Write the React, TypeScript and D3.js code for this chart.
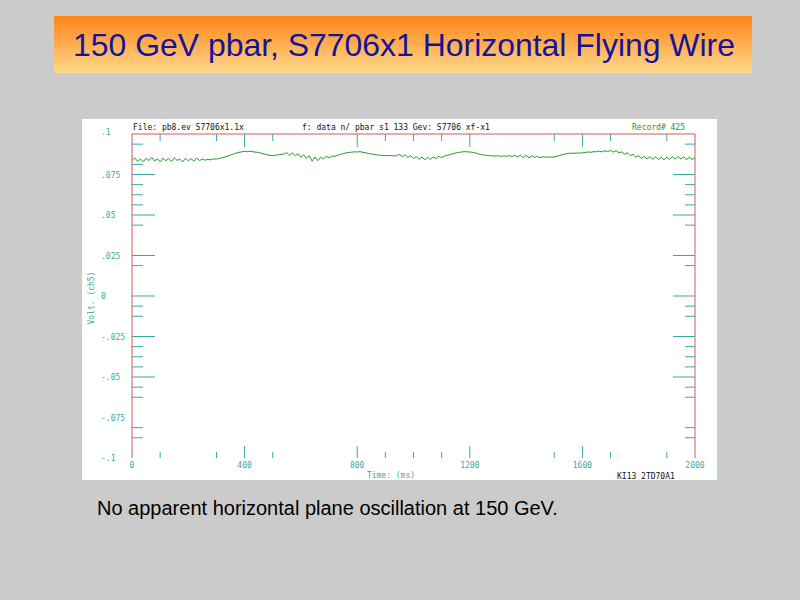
import React from "react";
import * as d3 from "d3";

// ---- data ----
const TITLE = "150 GeV pbar, S7706x1 Horizontal Flying Wire";
const CAPTION = "No apparent horizontal plane oscillation at 150 GeV.";
const HEADER_FILE = "File: pb8.ev S7706x1.1x";
const HEADER_PATH = "f: data n/ pbar s1 133 Gev: S7706 xf-x1";
const HEADER_RECORD = "Record#  425";
const FOOTER_ID = "KI13 2TD70A1";
const X_LABEL = "Time: (ms)";
const Y_LABEL = "Volt. (ch5)";

const X_DOMAIN = [0, 2000];
const Y_DOMAIN = [-0.1, 0.1];
const SAMPLE_STEP = 10; // ms between samples

const xTickLabels = [0, 400, 800, 1200, 1600, 2000];
const xMajorTicks = [400, 800, 1200, 1600];
const xMinorTicks = [100, 300, 500, 900, 1000, 1100, 1500, 1700, 1900];

const yTickLabels = [
  { v: 0.1, t: ".1" },
  { v: 0.075, t: ".075" },
  { v: 0.05, t: ".05" },
  { v: 0.025, t: ".025" },
  { v: 0, t: "0" },
  { v: -0.025, t: "-.025" },
  { v: -0.05, t: "-.05" },
  { v: -0.075, t: "-.075" },
  { v: -0.1, t: "-.1" },
];
const yMajorTicks = [0.075, 0.05, 0.025, 0, -0.025, -0.05];
const yMinorTicks = [
  0.09375, 0.06875, 0.0625, 0.05625, 0.04375, 0.01875, -0.00625, -0.0125,
  -0.03125, -0.0375, -0.04375, -0.05625, -0.0625, -0.08125, -0.0875,
];
const yMinorLeftOnly = [0.08125];

// signal (V), one sample every SAMPLE_STEP ms from 0 to 2000 ms
const signal = [
  0.0838, 0.0852, 0.0831, 0.0846, 0.0829, 0.085, 0.0836, 0.0855, 0.0833, 0.0847,
  0.0828, 0.0851, 0.0835, 0.0849, 0.083, 0.0853, 0.0837, 0.0845, 0.0827, 0.085,
  0.0834, 0.0848, 0.0832, 0.0852, 0.0836, 0.0846, 0.0838, 0.0844, 0.084, 0.0846,
  0.0845, 0.0849, 0.0853, 0.0858, 0.0864, 0.087, 0.0876, 0.0882, 0.0887, 0.089,
  0.0893, 0.0891, 0.0894, 0.089, 0.0888, 0.0886, 0.0881, 0.0877, 0.0872, 0.0868,
  0.0867, 0.0869, 0.0872, 0.0874, 0.0876,
  0.0885, 0.0868, 0.0884, 0.0866, 0.0878, 0.0856, 0.0872, 0.085, 0.0866, 0.0832,
  0.0858, 0.0835, 0.0856, 0.0846, 0.0862, 0.0852, 0.0864, 0.0862,
  0.0868, 0.0874, 0.0879, 0.0883, 0.0886, 0.0888, 0.089, 0.0889, 0.0891, 0.0887,
  0.0884, 0.088, 0.0877, 0.0874, 0.0871, 0.0869, 0.0868, 0.0867, 0.0866, 0.0867,
  0.0865, 0.0866,
  0.0874, 0.086, 0.0871, 0.0855, 0.0866, 0.0848, 0.0862, 0.0844, 0.0858, 0.0841,
  0.0856, 0.0843, 0.0859, 0.0848, 0.0862, 0.0855, 0.0864,
  0.0868, 0.0873, 0.0878, 0.0883, 0.0886, 0.0889, 0.0891, 0.089, 0.0889, 0.0887,
  0.0883, 0.0878, 0.0873, 0.087, 0.0868, 0.0866, 0.0865, 0.0864,
  0.0866, 0.0862, 0.0865, 0.0863, 0.0866, 0.0861, 0.0868, 0.0858, 0.087, 0.0853,
  0.0869, 0.0852, 0.0866, 0.0856, 0.0862, 0.0854, 0.086,
  0.0857, 0.0858, 0.0857, 0.0859, 0.0863, 0.0868, 0.0873, 0.0877, 0.088, 0.0882,
  0.0881, 0.0883, 0.0882, 0.0884, 0.0886, 0.0889, 0.0887, 0.0891, 0.089, 0.0895,
  0.0889, 0.0897, 0.0891,
  0.0899, 0.0888, 0.0898, 0.0884, 0.089, 0.0875, 0.0884, 0.0866, 0.0874, 0.0857,
  0.0866, 0.0848, 0.0862, 0.0846, 0.086, 0.0844, 0.0859, 0.0842, 0.0857, 0.084,
  0.0858, 0.0843, 0.086, 0.0845, 0.0861, 0.0846, 0.0859, 0.0841, 0.0857, 0.0843,
  0.0852,
];

// ---- styling ----
const TEAL = "#35aaa3";
const RED = "#d05a5a";
const GREEN = "#2a962a";
const MONO = "'DejaVu Sans Mono', monospace";
const SANS = "'Liberation Sans', Arial, sans-serif";

export default function App() {
  const W = 800;
  const H = 600;
  const left = 132;
  const right = 695;
  const top = 134;
  const bottom = 458;

  const x = d3.scaleLinear().domain(X_DOMAIN).range([left, right]);
  const y = d3.scaleLinear().domain(Y_DOMAIN).range([bottom, top]);

  const line = d3
    .line<number>()
    .x((_, i) => x(i * SAMPLE_STEP))
    .y((d) => y(d));

  return (
    <svg
      width={W}
      height={H}
      style={{ position: "absolute", left: 0, top: 0 }}
      viewBox={`0 0 ${W} ${H}`}
    >
      <defs>
        <linearGradient id="titleGrad" x1="0" y1="0" x2="0" y2="1">
          <stop offset="0%" stopColor="#ff8416" />
          <stop offset="100%" stopColor="#ffd98e" />
        </linearGradient>
      </defs>
      <rect x={0} y={0} width={W} height={H} fill="#cbcbcb" />

      {/* title banner */}
      <rect x={54} y={16} width={698} height={57} fill="url(#titleGrad)" />
      <text
        x={73}
        y={56}
        fontFamily={SANS}
        fontSize={31.5}
        fill="#14149a"
        textLength={662}
        lengthAdjust="spacingAndGlyphs"
      >
        {TITLE}
      </text>

      {/* plot panel */}
      <rect x={82} y={119} width={635} height={361} fill="#ffffff" />

      {/* header texts */}
      <text x={133} y={130} fontFamily={MONO} fontSize={8} fill="#111">
        {HEADER_FILE}
      </text>
      <text x={302} y={130} fontFamily={MONO} fontSize={8} fill="#111">
        {HEADER_PATH}
      </text>
      <text x={632} y={130} fontFamily={MONO} fontSize={8} fill={GREEN}>
        {HEADER_RECORD}
      </text>

      {/* y tick labels */}
      {yTickLabels.map((d) => (
        <text
          key={d.t}
          x={101}
          y={d.v === 0.1 ? y(d.v) + 1 : y(d.v) + 3}
          fontFamily={MONO}
          fontSize={8}
          fill={TEAL}
        >
          {d.t}
        </text>
      ))}
      <text
        transform={`translate(94, ${y(0) + 2}) rotate(-90)`}
        textAnchor="middle"
        fontFamily={MONO}
        fontSize={8}
        fill={TEAL}
      >
        {Y_LABEL}
      </text>

      {/* left & right ticks */}
      {yMajorTicks.map((v) => (
        <g key={"ym" + v} stroke={TEAL} strokeWidth={1}>
          <line x1={left} x2={left + 23} y1={y(v)} y2={y(v)} />
          <line x1={right - 22} x2={right} y1={y(v)} y2={y(v)} />
        </g>
      ))}
      {yMinorTicks.map((v) => (
        <g key={"yn" + v} stroke={TEAL} strokeWidth={1}>
          <line x1={left} x2={left + 11} y1={y(v)} y2={y(v)} />
          <line x1={right - 10} x2={right} y1={y(v)} y2={y(v)} />
        </g>
      ))}
      {yMinorLeftOnly.map((v) => (
        <line
          key={"yl" + v}
          x1={left}
          x2={left + 11}
          y1={y(v)}
          y2={y(v)}
          stroke={TEAL}
        />
      ))}

      {/* top & bottom ticks */}
      {xMajorTicks.map((v) => (
        <g key={"xm" + v} stroke={TEAL} strokeWidth={1}>
          <line x1={x(v)} x2={x(v)} y1={top} y2={top + 13} />
          <line x1={x(v)} x2={x(v)} y1={bottom - 12} y2={bottom} />
        </g>
      ))}
      {xMinorTicks.map((v) => (
        <g key={"xn" + v} stroke={TEAL} strokeWidth={1}>
          <line x1={x(v)} x2={x(v)} y1={top} y2={top + 7} />
          <line x1={x(v)} x2={x(v)} y1={bottom - 6} y2={bottom} />
        </g>
      ))}

      {/* x tick labels */}
      {xTickLabels.map((v) => (
        <text
          key={"xl" + v}
          x={x(v)}
          y={468}
          textAnchor="middle"
          fontFamily={MONO}
          fontSize={8}
          fill={TEAL}
        >
          {v}
        </text>
      ))}
      <text
        x={391}
        y={478}
        textAnchor="middle"
        fontFamily={MONO}
        fontSize={8}
        fill={TEAL}
      >
        {X_LABEL}
      </text>
      <text x={617} y={479} fontFamily={MONO} fontSize={8} fill="#111">
        {FOOTER_ID}
      </text>

      {/* frame (top, left, right) */}
      <path
        d={`M${left},${bottom}V${top}H${right}V${bottom}`}
        fill="none"
        stroke={RED}
        strokeWidth={1}
      />

      {/* signal trace */}
      <path
        d={line(signal) || ""}
        fill="none"
        stroke={GREEN}
        strokeWidth={1}
      />

      {/* caption */}
      <text x={97} y={515} fontFamily={SANS} fontSize={20} fill="#000">
        {CAPTION}
      </text>
    </svg>
  );
}
